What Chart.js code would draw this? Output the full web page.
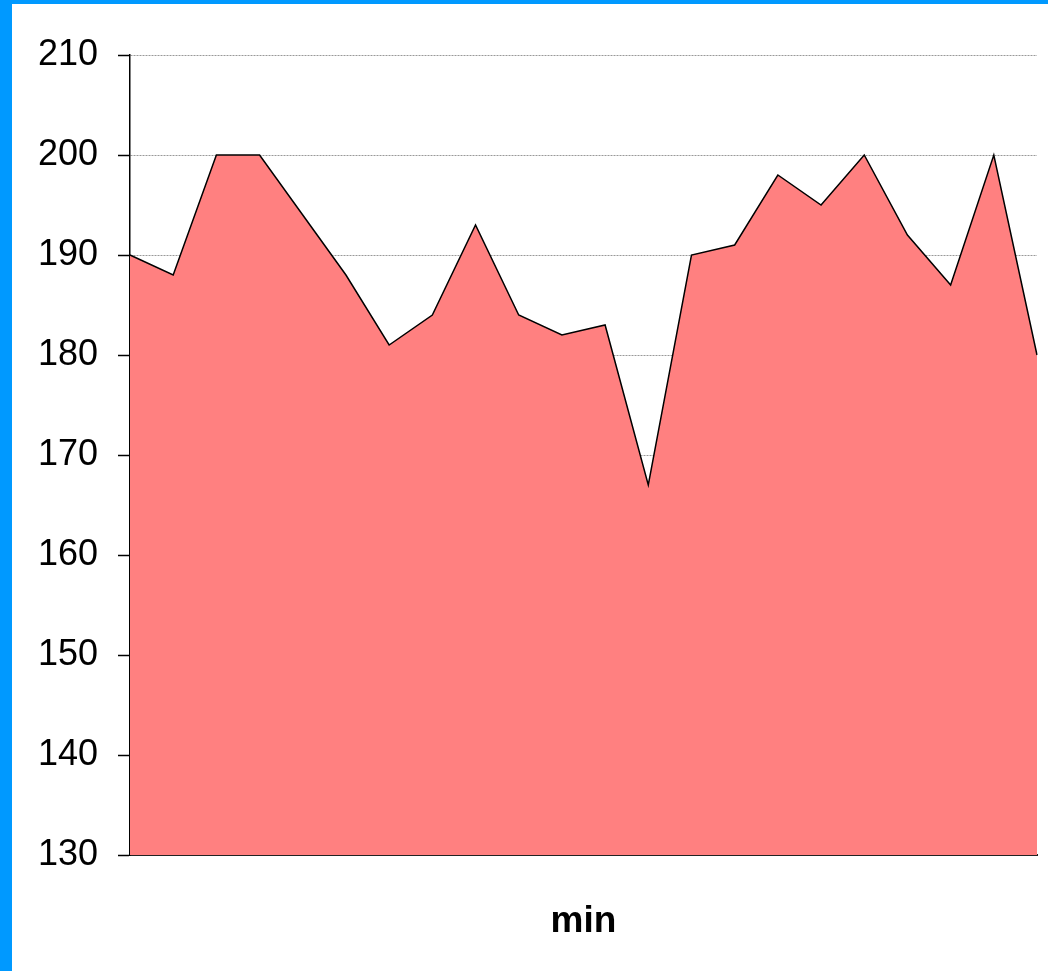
<!DOCTYPE html>
<html>
<head>
<meta charset="utf-8">
<script src="https://cdn.jsdelivr.net/npm/chart.js@4"></script>
<style>
  html, body { margin: 0; padding: 0; overflow: hidden; background: #ffffff; }
  #frame {
    width: 1036px;
    height: 967px;
    border-left: 12px solid #0099ff;
    border-top: 4px solid #0099ff;
    background: #ffffff;
  }
</style>
</head>
<body>
<div id="frame"><canvas id="chart" width="1036" height="967"></canvas></div>
<script>
// minute index along the x axis (no tick labels shown)
const minutes = ['1', '2', '3', '4', '5', '6', '7', '8', '9', '10', '11',
                 '12', '13', '14', '15', '16', '17', '18', '19', '20', '21', '22'];
// values
const heartRate = [190, 188, 200, 200, 194, 188, 181, 184, 193, 184, 182,
                   183, 167, 190, 191, 198, 195, 200, 192, 187, 200, 180];
const yMin = 130;
const yMax = 210;
const yStep = 10;
const xTitle = 'min';

const ctx = document.getElementById('chart').getContext('2d');
new Chart(ctx, {
    type: 'line',
    data: {
        labels: minutes,
        datasets: [{
            data: heartRate,
            borderColor: '#000000',
            borderWidth: 1.5,
            backgroundColor: '#ff8080',
            fill: 'start',
            tension: 0,
            pointRadius: 0
        }]
    },
    options: {
        responsive: false,
        animation: false,
        layout: { padding: { top: 51, right: 11, bottom: 0, left: 0 } },
        plugins: {
            legend: { display: false },
            tooltip: { enabled: false }
        },
        scales: {
            x: {
                offset: false,
                ticks: { display: false },
                grid: { display: false },
                border: { display: true, color: '#222222', width: 2 },
                title: {
                    display: true,
                    text: xTitle,
                    color: '#000000',
                    font: { family: 'Liberation Sans, Arial, sans-serif', size: 37, weight: 'bold' },
                    padding: { top: 44, bottom: 27 }
                },
                afterFit: (scale) => { scale.height = 116; }
            },
            y: {
                min: yMin,
                max: yMax,
                ticks: {
                    stepSize: yStep,
                    color: '#000000',
                    padding: 20,
                    font: { family: 'Liberation Sans, Arial, sans-serif', size: 36 }
                },
                grid: {
                    color: '#999999',
                    lineWidth: 1,
                    drawTicks: true,
                    tickLength: 12,
                    tickColor: '#000000',
                    tickWidth: 1.5
                },
                border: { display: true, color: '#000000', width: 1.5, dash: [2, 1] },
                afterFit: (scale) => { scale.width = 118; }
            }
        }
    }
});
</script>
</body>
</html>
